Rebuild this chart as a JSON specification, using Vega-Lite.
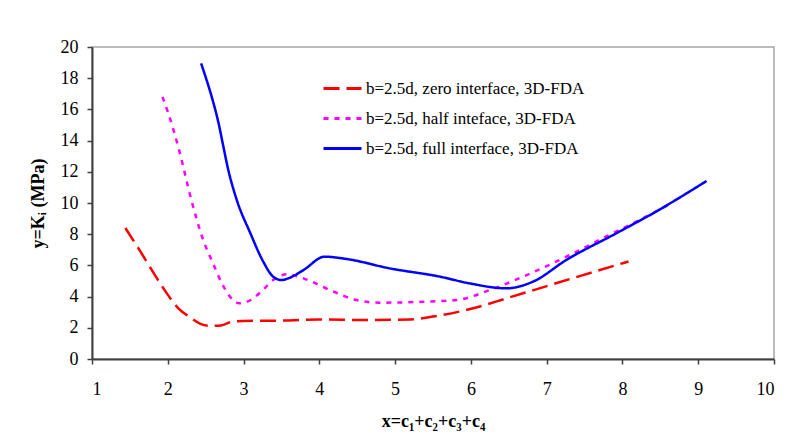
{
  "$schema": "https://vega.github.io/schema/vega-lite/v6.json",
  "width": 682,
  "height": 312,
  "autosize": {"type": "none"},
  "padding": {"left": 92, "top": 47, "right": 16, "bottom": 77},
  "background": "white",
  "config": {
    "view": {"stroke": "#a6a6a6", "strokeWidth": 1.5},
    "font": "Liberation Serif"
  },
  "data": {
    "values": [
      {"s": "b=2.5d, zero interface, 3D-FDA", "x": 1.44, "y": 8.4},
      {"s": "b=2.5d, zero interface, 3D-FDA", "x": 1.64, "y": 6.88},
      {"s": "b=2.5d, zero interface, 3D-FDA", "x": 1.83, "y": 5.38},
      {"s": "b=2.5d, zero interface, 3D-FDA", "x": 1.94, "y": 4.55},
      {"s": "b=2.5d, zero interface, 3D-FDA", "x": 2.14, "y": 3.25},
      {"s": "b=2.5d, zero interface, 3D-FDA", "x": 2.3, "y": 2.65},
      {"s": "b=2.5d, zero interface, 3D-FDA", "x": 2.43, "y": 2.25},
      {"s": "b=2.5d, zero interface, 3D-FDA", "x": 2.56, "y": 2.12},
      {"s": "b=2.5d, zero interface, 3D-FDA", "x": 2.7, "y": 2.15},
      {"s": "b=2.5d, zero interface, 3D-FDA", "x": 2.87, "y": 2.42},
      {"s": "b=2.5d, zero interface, 3D-FDA", "x": 3.2, "y": 2.45},
      {"s": "b=2.5d, zero interface, 3D-FDA", "x": 3.6, "y": 2.47},
      {"s": "b=2.5d, zero interface, 3D-FDA", "x": 4.0, "y": 2.54},
      {"s": "b=2.5d, zero interface, 3D-FDA", "x": 4.6, "y": 2.5},
      {"s": "b=2.5d, zero interface, 3D-FDA", "x": 5.2, "y": 2.54},
      {"s": "b=2.5d, zero interface, 3D-FDA", "x": 5.5, "y": 2.72},
      {"s": "b=2.5d, zero interface, 3D-FDA", "x": 6.03, "y": 3.25},
      {"s": "b=2.5d, zero interface, 3D-FDA", "x": 6.47, "y": 3.89},
      {"s": "b=2.5d, zero interface, 3D-FDA", "x": 6.85, "y": 4.45},
      {"s": "b=2.5d, zero interface, 3D-FDA", "x": 7.48, "y": 5.38},
      {"s": "b=2.5d, zero interface, 3D-FDA", "x": 8.08, "y": 6.25},
      {"s": "b=2.5d, half inteface, 3D-FDA", "x": 1.93, "y": 16.8},
      {"s": "b=2.5d, half inteface, 3D-FDA", "x": 2.0, "y": 15.85},
      {"s": "b=2.5d, half inteface, 3D-FDA", "x": 2.16, "y": 13.2},
      {"s": "b=2.5d, half inteface, 3D-FDA", "x": 2.3, "y": 10.4},
      {"s": "b=2.5d, half inteface, 3D-FDA", "x": 2.47, "y": 7.6},
      {"s": "b=2.5d, half inteface, 3D-FDA", "x": 2.6, "y": 6.1},
      {"s": "b=2.5d, half inteface, 3D-FDA", "x": 2.72, "y": 4.8},
      {"s": "b=2.5d, half inteface, 3D-FDA", "x": 2.82, "y": 4.0},
      {"s": "b=2.5d, half inteface, 3D-FDA", "x": 2.95, "y": 3.57},
      {"s": "b=2.5d, half inteface, 3D-FDA", "x": 3.1, "y": 3.8},
      {"s": "b=2.5d, half inteface, 3D-FDA", "x": 3.25, "y": 4.4},
      {"s": "b=2.5d, half inteface, 3D-FDA", "x": 3.39, "y": 5.06},
      {"s": "b=2.5d, half inteface, 3D-FDA", "x": 3.58, "y": 5.43},
      {"s": "b=2.5d, half inteface, 3D-FDA", "x": 3.79, "y": 5.17},
      {"s": "b=2.5d, half inteface, 3D-FDA", "x": 4.14, "y": 4.42},
      {"s": "b=2.5d, half inteface, 3D-FDA", "x": 4.49, "y": 3.78},
      {"s": "b=2.5d, half inteface, 3D-FDA", "x": 4.8, "y": 3.61},
      {"s": "b=2.5d, half inteface, 3D-FDA", "x": 5.37, "y": 3.67},
      {"s": "b=2.5d, half inteface, 3D-FDA", "x": 5.81, "y": 3.78},
      {"s": "b=2.5d, half inteface, 3D-FDA", "x": 6.25, "y": 4.42},
      {"s": "b=2.5d, half inteface, 3D-FDA", "x": 6.69, "y": 5.28},
      {"s": "b=2.5d, half inteface, 3D-FDA", "x": 7.26, "y": 6.56},
      {"s": "b=2.5d, half inteface, 3D-FDA", "x": 7.78, "y": 7.84},
      {"s": "b=2.5d, half inteface, 3D-FDA", "x": 8.27, "y": 9.02},
      {"s": "b=2.5d, half inteface, 3D-FDA", "x": 8.6, "y": 9.87},
      {"s": "b=2.5d, full interface, 3D-FDA", "x": 2.44, "y": 18.95},
      {"s": "b=2.5d, full interface, 3D-FDA", "x": 2.65, "y": 15.53},
      {"s": "b=2.5d, full interface, 3D-FDA", "x": 2.82, "y": 11.69},
      {"s": "b=2.5d, full interface, 3D-FDA", "x": 2.91, "y": 10.2},
      {"s": "b=2.5d, full interface, 3D-FDA", "x": 3.09, "y": 8.06},
      {"s": "b=2.5d, full interface, 3D-FDA", "x": 3.26, "y": 6.24},
      {"s": "b=2.5d, full interface, 3D-FDA", "x": 3.39, "y": 5.28},
      {"s": "b=2.5d, full interface, 3D-FDA", "x": 3.5, "y": 5.06},
      {"s": "b=2.5d, full interface, 3D-FDA", "x": 3.59, "y": 5.17},
      {"s": "b=2.5d, full interface, 3D-FDA", "x": 3.79, "y": 5.7},
      {"s": "b=2.5d, full interface, 3D-FDA", "x": 4.07, "y": 6.56},
      {"s": "b=2.5d, full interface, 3D-FDA", "x": 4.36, "y": 6.41},
      {"s": "b=2.5d, full interface, 3D-FDA", "x": 4.93, "y": 5.81},
      {"s": "b=2.5d, full interface, 3D-FDA", "x": 5.59, "y": 5.28},
      {"s": "b=2.5d, full interface, 3D-FDA", "x": 5.98, "y": 4.85},
      {"s": "b=2.5d, full interface, 3D-FDA", "x": 6.47, "y": 4.53},
      {"s": "b=2.5d, full interface, 3D-FDA", "x": 6.82, "y": 4.96},
      {"s": "b=2.5d, full interface, 3D-FDA", "x": 7.26, "y": 6.35},
      {"s": "b=2.5d, full interface, 3D-FDA", "x": 7.92, "y": 8.06},
      {"s": "b=2.5d, full interface, 3D-FDA", "x": 8.44, "y": 9.44},
      {"s": "b=2.5d, full interface, 3D-FDA", "x": 9.11, "y": 11.41}
    ]
  },
  "mark": {"type": "line", "interpolate": "monotone", "strokeWidth": 2.5, "clip": true},
  "encoding": {
    "x": {
      "field": "x", "type": "quantitative",
      "scale": {"domain": [1, 10], "nice": false, "zero": false},
      "axis": {
        "title": "x=c₁+c₂+c₃+c₄",
        "values": [1, 2, 3, 4, 5, 6, 7, 8, 9, 10],
        "grid": false,
        "domainColor": "#404040", "domainWidth": 2,
        "tickColor": "#404040", "tickWidth": 1.5, "tickSize": 5,
        "labelFont": "Liberation Serif", "labelFontSize": 18, "labelColor": "#000000", "labelPadding": 16,
        "titleFont": "Liberation Serif", "titleFontSize": 18, "titleFontWeight": "bold", "titleColor": "#000000", "titlePadding": 14
      }
    },
    "y": {
      "field": "y", "type": "quantitative",
      "scale": {"domain": [0, 20], "nice": false},
      "axis": {
        "title": "y=Kᵢ (MPa)",
        "values": [0, 2, 4, 6, 8, 10, 12, 14, 16, 18, 20],
        "grid": false,
        "domainColor": "#404040", "domainWidth": 2,
        "tickColor": "#404040", "tickWidth": 1.5, "tickSize": 5,
        "labelFont": "Liberation Serif", "labelFontSize": 18, "labelColor": "#000000", "labelPadding": 9,
        "titleFont": "Liberation Serif", "titleFontSize": 18, "titleFontWeight": "bold", "titleColor": "#000000", "titlePadding": 13
      }
    },
    "color": {
      "field": "s", "type": "nominal",
      "scale": {
        "domain": ["b=2.5d, zero interface, 3D-FDA", "b=2.5d, half inteface, 3D-FDA", "b=2.5d, full interface, 3D-FDA"],
        "range": ["#ff0000", "#ff00ff", "#0000ff"]
      },
      "legend": {
        "title": null, "orient": "none", "legendX": 230, "legendY": 21,
        "symbolType": "stroke", "symbolSize": 1444, "symbolStrokeWidth": 3,
        "labelFont": "Liberation Serif", "labelFontSize": 17, "labelColor": "#000000", "labelLimit": 0,
        "labelOffset": 3, "rowPadding": 1
      }
    },
    "strokeDash": {
      "field": "s", "type": "nominal",
      "scale": {
        "domain": ["b=2.5d, zero interface, 3D-FDA", "b=2.5d, half inteface, 3D-FDA", "b=2.5d, full interface, 3D-FDA"],
        "range": [[16, 7], [5, 6], [1, 0]]
      },
      "legend": {
        "title": null, "orient": "none", "legendX": 230, "legendY": 21,
        "symbolType": "stroke", "symbolSize": 1444, "symbolStrokeWidth": 3,
        "labelFont": "Liberation Serif", "labelFontSize": 17, "labelColor": "#000000", "labelLimit": 0,
        "labelOffset": 3, "rowPadding": 1
      }
    }
  }
}
